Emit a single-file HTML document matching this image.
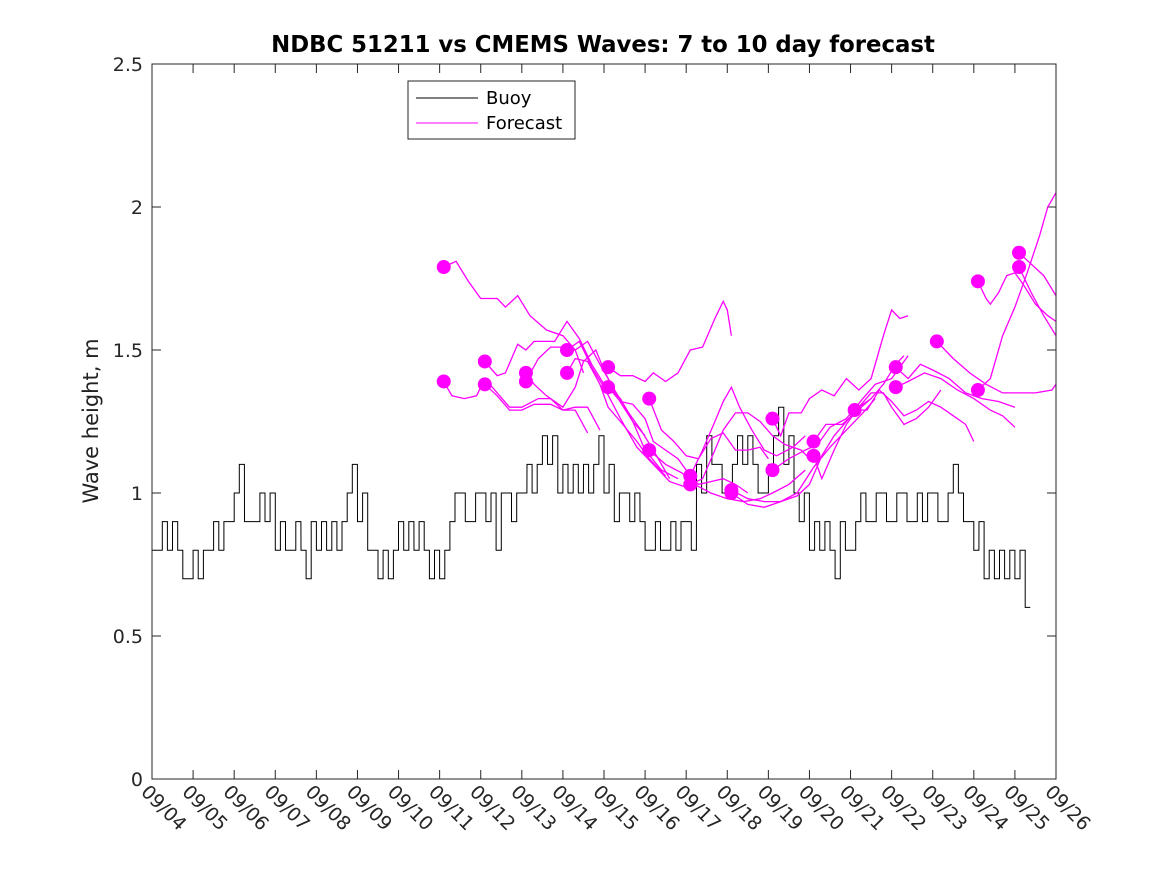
<!DOCTYPE html>
<html><head><meta charset="utf-8"><style>
body{margin:0;background:#fff}
svg{display:block;font-family:"DejaVu Sans","Liberation Sans",sans-serif}
</style></head><body>
<svg id="chart" width="1167" height="875">
<rect x="0" y="0" width="1167" height="875" fill="#fff"/>
<text x="603" y="52" text-anchor="middle" font-size="22.8" font-weight="bold" fill="#000">NDBC 51211 vs CMEMS Waves: 7 to 10 day forecast</text>
<text transform="translate(98,421) rotate(-90)" text-anchor="middle" font-size="21" fill="#222">Wave height, m</text>
<g id="axes"></g>
<g id="series"></g>
<rect x="152" y="64" width="904" height="715" fill="none" stroke="#262626" stroke-width="1"/>
<g>
<rect x="408" y="81" width="167" height="58" fill="#fff" stroke="#262626"/>
<line x1="416" y1="98" x2="478" y2="98" stroke="#000"/>
<text x="486" y="104" font-size="18" fill="#000">Buoy</text>
<line x1="416" y1="123" x2="478" y2="123" stroke="#ff00ff"/>
<text x="486" y="129" font-size="18" fill="#000">Forecast</text>
</g>
</svg>
<script>
const xTickLabels=["09/04","09/05","09/06","09/07","09/08","09/09","09/10","09/11","09/12","09/13","09/14","09/15","09/16","09/17","09/18","09/19","09/20","09/21","09/22","09/23","09/24","09/25","09/26"];
const yTicks=[0,0.5,1,1.5,2,2.5];
const yTickLabels=["0","0.5","1","1.5","2","2.5"];
// 3-hourly buoy readings, one row per day from 09/04
const buoyValues=[
0.8,0.8,0.9,0.8,0.9,0.8,0.7,0.7,
0.8,0.7,0.8,0.8,0.9,0.8,0.9,0.9,
1.0,1.1,0.9,0.9,0.9,1.0,0.9,1.0,
0.8,0.9,0.8,0.8,0.9,0.8,0.7,0.9,
0.8,0.9,0.8,0.9,0.8,0.9,1.0,1.1,
0.9,1.0,0.8,0.8,0.7,0.8,0.7,0.8,
0.9,0.8,0.9,0.8,0.9,0.8,0.7,0.8,
0.7,0.8,0.9,1.0,1.0,0.9,0.9,1.0,
1.0,0.9,1.0,0.8,1.0,1.0,0.9,1.0,
1.0,1.1,1.0,1.1,1.2,1.1,1.2,1.0,
1.1,1.0,1.1,1.0,1.1,1.0,1.1,1.2,
1.0,1.1,0.9,1.0,1.0,0.9,1.0,0.9,
0.8,0.8,0.9,0.8,0.8,0.9,0.8,0.9,
0.9,0.8,1.1,1.0,1.2,1.1,1.1,1.0,
1.0,1.1,1.2,1.1,1.2,1.1,1.0,1.0,
1.1,1.2,1.3,1.1,1.2,1.0,0.9,1.0,
0.8,0.9,0.8,0.9,0.8,0.7,0.9,0.8,
0.8,0.9,1.0,0.9,0.9,1.0,1.0,0.9,
0.9,1.0,1.0,0.9,0.9,1.0,0.9,1.0,
1.0,0.9,0.9,1.0,1.1,1.0,0.9,0.9,
0.8,0.9,0.7,0.8,0.7,0.8,0.7,0.8,
0.7,0.8,0.6];
const forecastStarts=[[11.1,1.79],[11.1,1.39],[12.1,1.46],[12.1,1.38],[13.1,1.42],[13.1,1.39],[14.1,1.50],[14.1,1.42],[15.1,1.44],[15.1,1.37],[16.1,1.33],[16.1,1.15],[17.1,1.06],[17.1,1.03],[18.1,1.01],[18.1,1.00],[19.1,1.26],[19.1,1.08],[20.1,1.18],[20.1,1.13],[21.1,1.29],[22.1,1.44],[22.1,1.37],[23.1,1.53],[24.1,1.74],[24.1,1.36],[25.1,1.84],[25.1,1.79]];
const forecastTracks=[
[[11.1,1.79],[11.4,1.81],[11.7,1.74],[12.0,1.68],[12.4,1.68],[12.6,1.65],[12.9,1.69],[13.2,1.62],[13.6,1.57],[14.0,1.55],[14.3,1.50],[14.5,1.42]],
[[11.1,1.39],[11.3,1.34],[11.6,1.33],[11.9,1.34],[12.1,1.40],[12.4,1.35],[12.7,1.30],[13.0,1.30],[13.4,1.33],[13.7,1.33],[14.0,1.29],[14.3,1.29],[14.6,1.21]],
[[12.1,1.46],[12.4,1.41],[12.6,1.42],[12.9,1.52],[13.1,1.50],[13.3,1.53],[13.8,1.53],[14.1,1.60],[14.4,1.54],[14.7,1.45],[15.0,1.38],[15.4,1.33],[15.7,1.25],[16.0,1.20]],
[[12.1,1.38],[12.4,1.34],[12.7,1.29],[13.0,1.29],[13.3,1.31],[13.7,1.31],[14.0,1.29],[14.3,1.30],[14.6,1.30],[14.9,1.22]],
[[13.1,1.42],[13.3,1.38],[13.6,1.34],[14.0,1.30],[14.3,1.37],[14.5,1.46],[14.8,1.50],[15.0,1.43],[15.3,1.34],[15.7,1.25],[16.0,1.15],[16.4,1.08],[16.8,1.05]],
[[13.1,1.39],[13.4,1.47],[13.7,1.51],[14.0,1.51],[14.3,1.50],[14.6,1.53],[14.9,1.45],[15.3,1.35],[15.6,1.28],[15.9,1.22],[16.2,1.15],[16.6,1.05]],
[[14.1,1.50],[14.4,1.53],[14.7,1.44],[15.0,1.37],[15.4,1.26],[15.8,1.16],[16.2,1.10],[16.6,1.04],[17.0,1.02]],
[[14.1,1.42],[14.3,1.47],[14.6,1.46],[14.9,1.38],[15.1,1.30],[15.4,1.25],[15.8,1.18],[16.1,1.12],[16.5,1.06]],
[[15.1,1.44],[15.4,1.41],[15.7,1.41],[16.0,1.39],[16.2,1.42],[16.5,1.39],[16.8,1.42],[17.1,1.50],[17.4,1.51],[17.7,1.61],[17.9,1.67],[18.0,1.64],[18.1,1.55]],
[[15.1,1.37],[15.4,1.32],[15.7,1.31],[16.0,1.26],[16.2,1.18],[16.5,1.15],[16.8,1.12],[17.1,1.06],[17.3,1.03],[17.6,1.04],[17.9,1.05],[18.2,1.03],[18.5,1.00]],
[[16.1,1.33],[16.4,1.22],[16.7,1.18],[17.0,1.13],[17.3,1.12],[17.6,1.19],[17.9,1.21],[18.2,1.15],[18.5,1.15],[18.8,1.16],[19.0,1.12]],
[[16.1,1.15],[16.5,1.10],[16.9,1.07],[17.2,1.03],[17.6,1.00],[18.0,0.98],[18.4,0.97],[18.8,0.98],[19.1,1.00],[19.5,1.03],[19.9,1.08]],
[[17.1,1.06],[17.4,1.15],[17.7,1.25],[17.9,1.32],[18.1,1.37],[18.3,1.30],[18.6,1.22],[18.9,1.15],[19.2,1.13],[19.6,1.16],[19.9,1.20]],
[[17.1,1.03],[17.4,1.05],[17.7,1.15],[17.9,1.22],[18.2,1.28],[18.5,1.28],[18.8,1.25],[19.1,1.20],[19.4,1.17],[19.8,1.15],[20.0,1.12]],
[[18.1,1.01],[18.5,0.98],[18.9,0.97],[19.3,0.97],[19.7,0.99],[20.0,1.03],[20.3,1.13],[20.6,1.20],[20.9,1.25],[21.2,1.30],[21.5,1.33]],
[[18.1,1.00],[18.5,0.96],[18.9,0.95],[19.3,0.97],[19.7,1.00],[20.1,1.09],[20.5,1.16],[20.9,1.22],[21.3,1.28],[21.6,1.33]],
[[19.1,1.26],[19.3,1.20],[19.5,1.28],[19.8,1.28],[20.0,1.33],[20.3,1.36],[20.6,1.34],[20.9,1.40],[21.2,1.36],[21.5,1.40],[21.8,1.55],[22.0,1.64],[22.2,1.61],[22.4,1.62]],
[[19.1,1.08],[19.5,1.12],[19.9,1.15],[20.2,1.17],[20.5,1.23],[20.9,1.26],[21.3,1.33],[21.6,1.38],[22.0,1.40],[22.4,1.48]],
[[20.1,1.18],[20.4,1.24],[20.8,1.24],[21.1,1.28],[21.5,1.33],[21.8,1.38],[22.1,1.45],[22.3,1.48]],
[[20.1,1.13],[20.3,1.05],[20.6,1.15],[20.9,1.24],[21.2,1.30],[21.5,1.35],[21.8,1.35],[22.0,1.30],[22.3,1.24],[22.6,1.26],[22.9,1.30],[23.2,1.36]],
[[21.1,1.29],[21.4,1.29],[21.7,1.36],[22.0,1.32],[22.3,1.27],[22.6,1.29],[22.9,1.32],[23.2,1.30],[23.5,1.27],[23.8,1.24],[24.0,1.18]],
[[22.1,1.44],[22.4,1.40],[22.7,1.45],[23.0,1.43],[23.4,1.40],[23.8,1.35],[24.2,1.33],[24.6,1.32],[25.0,1.30]],
[[22.1,1.37],[22.4,1.39],[22.8,1.42],[23.2,1.40],[23.6,1.36],[24.0,1.33],[24.4,1.29],[24.7,1.27],[25.0,1.23]],
[[23.1,1.53],[23.5,1.47],[23.9,1.42],[24.3,1.38],[24.7,1.35],[25.1,1.35],[25.5,1.35],[25.9,1.36],[26.0,1.38]],
[[24.1,1.74],[24.3,1.68],[24.4,1.66],[24.6,1.70],[24.8,1.76],[25.0,1.77],[25.2,1.73],[25.5,1.66],[25.8,1.62],[26.0,1.60]],
[[24.1,1.36],[24.4,1.40],[24.7,1.55],[25.0,1.65],[25.3,1.77],[25.6,1.90],[25.8,2.00],[26.0,2.05]],
[[25.1,1.84],[25.4,1.80],[25.7,1.76],[26.0,1.69]],
[[25.1,1.79],[25.4,1.70],[25.7,1.62],[26.0,1.55]]
];
const NS="http://www.w3.org/2000/svg";
const X0=152,X1=1056,Y0=779,Y1=64;
function xs(d){return X0+(d-4)/22*(X1-X0);}
function ys(v){return Y0-v/2.5*(Y0-Y1);}
function mk(tag,attrs,parent){const e=document.createElementNS(NS,tag);for(const k in attrs)e.setAttribute(k,attrs[k]);parent.appendChild(e);return e;}
const axes=document.getElementById('axes'),series=document.getElementById('series');
yTicks.forEach((v,i)=>{
  const y=ys(v);
  const l=mk('line',{x1:X0,x2:X0+9,y1:y,y2:y,stroke:'#262626'},axes);
  
  
  const r=mk('line',{x1:X1-9,x2:X1,y1:y,y2:y,stroke:'#262626'},axes);
  
  
  const t=mk('text',{x:X0-9,y:y+7,'text-anchor':'end','font-size':19,fill:'#262626'},axes);
  t.textContent=yTickLabels[i];
  
  
});
xTickLabels.forEach((s,i)=>{
  const x=xs(4+i);
  const l=mk('line',{x1:x,x2:x,y1:Y0,y2:Y0-9,stroke:'#262626'},axes);
  
  
  const u=mk('line',{x1:x,x2:x,y1:Y1,y2:Y1+9,stroke:'#262626'},axes);
  
  
  const t=mk('text',{transform:`translate(${x-12},${Y0+14}) rotate(45)`,'font-size':19,fill:'#262626'},axes);
  t.textContent=s;
  
  
});
let d='';
const step=0.125;
buoyValues.forEach((v,i)=>{
  const x0=xs(4+i*step),x1=xs(4+(i+1)*step)-0.01;
  d+=(i===0?'M':'L')+x0.toFixed(1)+','+ys(v).toFixed(1)+'L'+x1.toFixed(1)+','+ys(v).toFixed(1);
});
const bp=mk('path',{d:d,fill:'none',stroke:'#000','stroke-width':1},series);


forecastTracks.forEach(tr=>{
  const p=mk('polyline',{points:tr.map(q=>xs(q[0]).toFixed(1)+','+ys(q[1]).toFixed(1)).join(' '),fill:'none',stroke:'#ff00ff','stroke-width':1.3},series);
  
  
});
forecastStarts.forEach(q=>{
  const c=mk('circle',{cx:xs(q[0]),cy:ys(q[1]),r:7,fill:'#ff00ff'},series);
  
  
});
</script>
</body></html>
